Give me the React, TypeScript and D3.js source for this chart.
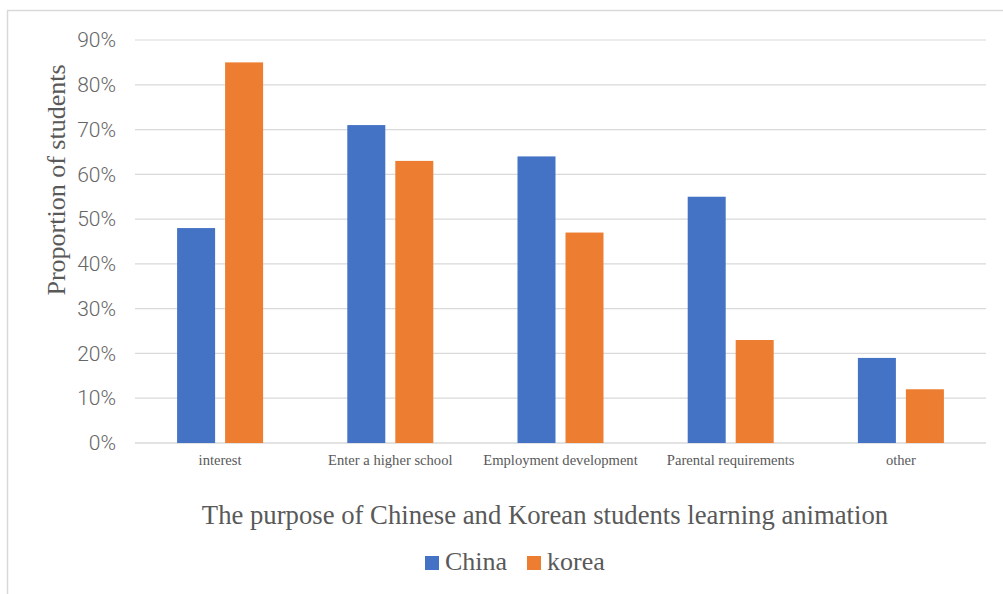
import { useEffect, useRef } from 'react';
import * as d3 from 'd3';

const categories = ['interest', 'Enter a higher school', 'Employment development', 'Parental requirements', 'other'];
const seriesNames = ['China', 'korea'];
const chinaValues = [48, 71, 64, 55, 19];
const koreaValues = [85, 63, 47, 23, 12];
const yTicks = [0, 10, 20, 30, 40, 50, 60, 70, 80, 90];
const colors = ['#4472c4', '#ed7d31'];

const WIDTH = 1003;
const HEIGHT = 594;
const PLOT = { left: 135, right: 986, top: 40, bottom: 443 };
const SERIF = "'Liberation Serif', 'Times New Roman', serif";

export default function App() {
  const axesRef = useRef<SVGGElement>(null);

  const x = d3.scaleBand<string>().domain(categories).range([PLOT.left, PLOT.right]);
  const y = d3.scaleLinear().domain([0, 90]).range([PLOT.bottom, PLOT.top]);
  const barW = 38;
  const gap = 10;

  useEffect(() => {
    const g = d3.select(axesRef.current);
    g.selectAll('*').remove();

    // y axis labels
    const yAxis = d3.axisLeft(y).tickValues(yTicks).tickFormat((d) => `${d}%`).tickSize(0).tickPadding(19);
    const ya = g.append('g').attr('transform', `translate(${PLOT.left},0)`).call(yAxis);
    ya.select('.domain').remove();
    ya.attr('font-family', null).attr('font-size', null);
    ya.selectAll('text')
      .attr('fill', '#666666')
      .style('font-family', "Roboto, 'Noto Sans', sans-serif")
      .style('font-size', '21px')
      .style('font-weight', '300');

    // x axis labels
    const xAxis = d3.axisBottom(x).tickSize(0).tickPadding(12);
    const xa = g.append('g').attr('transform', `translate(0,${PLOT.bottom})`).call(xAxis);
    xa.select('.domain').remove();
    xa.attr('font-family', null).attr('font-size', null);
    xa.selectAll('text')
      .attr('fill', '#595959')
      .style('font-family', SERIF)
      .style('font-size', '14.6px');
  }, []);

  const series = [chinaValues, koreaValues];

  return (
    <svg width={WIDTH} height={HEIGHT} style={{ position: 'absolute', left: 0, top: 0 }}>
      <rect x={0} y={0} width={WIDTH} height={HEIGHT} fill="#fff" />
      <rect x={7.5} y={10.5} width={WIDTH + 10} height={HEIGHT} fill="none" stroke="#d9d9d9" strokeWidth={1.5} />
      {yTicks.map((t) => (
        <line key={t} x1={PLOT.left} x2={PLOT.right} y1={y(t)} y2={y(t)} stroke="#d9d9d9" strokeWidth={t === 0 ? 1.5 : 1.2} />
      ))}
      {series.map((vals, si) =>
        categories.map((c, i) => {
          const cx = x(c)! + x.bandwidth() / 2;
          const bx = si === 0 ? cx - gap / 2 - barW : cx + gap / 2;
          return (
            <rect key={`${si}-${i}`} x={bx} y={y(vals[i])} width={barW} height={y(0) - y(vals[i])} fill={colors[si]} />
          );
        })
      )}
      <g ref={axesRef} />
      <text
        transform="translate(65,180) rotate(-90)"
        textAnchor="middle"
        fill="#595959"
        style={{ fontFamily: SERIF, fontSize: '26px' }}
      >
        Proportion of students
      </text>
      <text x={545} y={524} textAnchor="middle" fill="#595959" style={{ fontFamily: SERIF, fontSize: '26.7px' }}>
        The purpose of Chinese and Korean students learning animation
      </text>
      {seriesNames.map((n, i) => (
        <g key={n} transform={`translate(${i === 0 ? 425 : 527},556)`}>
          <rect x={0} y={0} width={14} height={14} fill={colors[i]} />
          <text x={20} y={14} fill="#595959" style={{ fontFamily: SERIF, fontSize: '26px' }}>
            {n}
          </text>
        </g>
      ))}
    </svg>
  );
}
